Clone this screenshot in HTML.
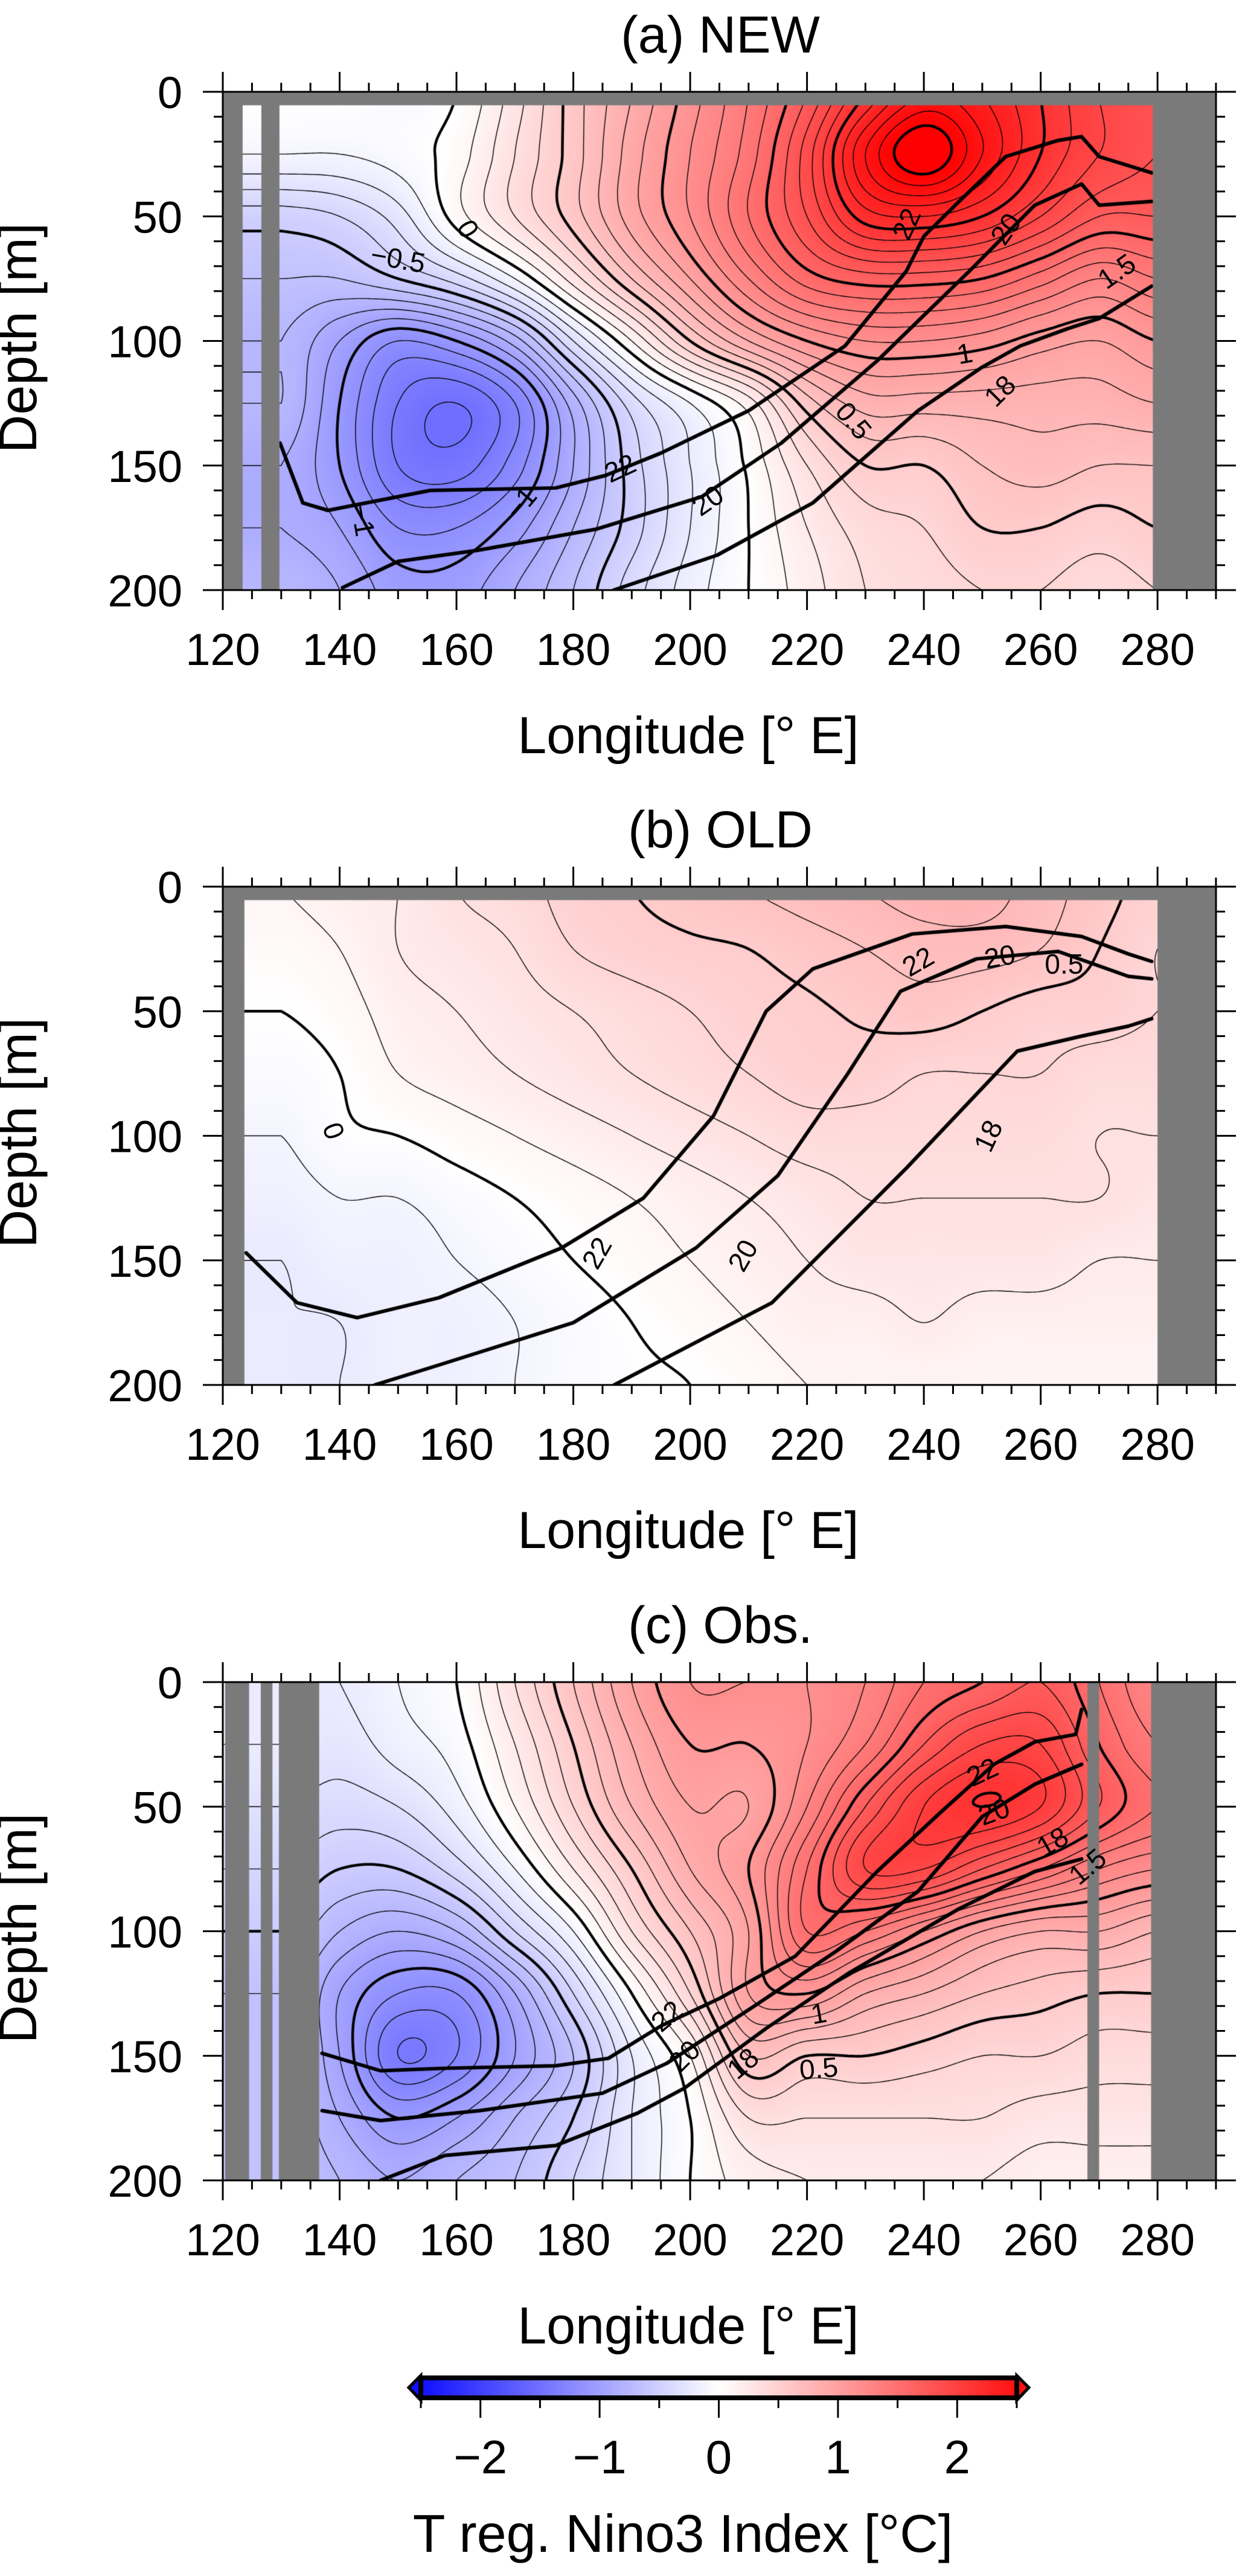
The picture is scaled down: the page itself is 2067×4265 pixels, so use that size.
<!DOCTYPE html>
<html><head><meta charset="utf-8">
<style>
body{margin:0;width:2067px;height:4265px;background:#fff;position:relative;overflow:hidden;font-family:"Liberation Sans",sans-serif}
canvas{position:absolute}
svg{position:absolute;left:0;top:0}
</style></head>
<body>
<svg id="s" width="2067" height="4265"></svg>
<script>
// ---------- data ----------
const lonGrid=[130,140,150,160,170,180,190,200,210,220,230,240,250,260,270,280];
const depthGrid=[0,25,50,75,100,125,150,175,200];
const newValues=[
[0.0,0.0,-0.05,0.0,0.25,0.55,0.8,1.05,1.3,1.6,2.0,2.3,2.2,2.0,1.8,1.7],
[-0.1,-0.1,-0.05,0.05,0.3,0.55,0.85,1.1,1.35,1.75,2.3,2.6,2.3,2.0,1.8,1.7],
[-0.45,-0.4,-0.25,0.05,0.3,0.55,0.85,1.1,1.4,1.7,2.05,2.1,2.0,1.8,1.6,1.6],
[-0.6,-0.6,-0.5,-0.35,-0.1,0.25,0.6,0.9,1.2,1.45,1.55,1.55,1.5,1.35,1.2,1.3],
[-0.7,-0.9,-1.1,-1.0,-0.75,-0.3,0.1,0.5,0.8,1.0,1.1,1.1,1.05,0.95,0.9,1.0],
[-0.7,-1.0,-1.3,-1.4,-1.2,-0.75,-0.35,-0.1,0.15,0.55,0.75,0.75,0.75,0.75,0.75,0.8],
[-0.8,-1.0,-1.3,-1.35,-1.15,-0.8,-0.45,-0.2,0.02,0.3,0.5,0.5,0.6,0.65,0.6,0.6],
[-0.8,-0.9,-1.1,-1.1,-0.95,-0.7,-0.45,-0.2,0.0,0.2,0.35,0.4,0.5,0.5,0.45,0.5],
[-0.7,-0.8,-0.95,-0.95,-0.8,-0.6,-0.35,-0.15,0.0,0.15,0.3,0.35,0.4,0.4,0.35,0.4]];
const oldValues=[
[0.1,0.15,0.2,0.3,0.35,0.45,0.5,0.55,0.6,0.65,0.7,0.75,0.75,0.65,0.55,0.45],
[0.05,0.1,0.2,0.25,0.3,0.4,0.45,0.48,0.5,0.55,0.6,0.65,0.65,0.6,0.5,0.4],
[0.0,0.05,0.15,0.2,0.25,0.3,0.35,0.4,0.45,0.48,0.52,0.55,0.5,0.45,0.45,0.4],
[-0.05,0.0,0.1,0.15,0.2,0.25,0.3,0.35,0.4,0.45,0.45,0.4,0.4,0.4,0.35,0.35],
[-0.1,-0.02,0.0,0.05,0.1,0.15,0.2,0.25,0.3,0.35,0.35,0.35,0.35,0.35,0.3,0.3],
[-0.15,-0.1,-0.1,-0.05,0.0,0.05,0.1,0.15,0.2,0.25,0.3,0.3,0.3,0.3,0.3,0.25],
[-0.2,-0.15,-0.15,-0.1,-0.05,0.0,0.05,0.1,0.15,0.2,0.25,0.25,0.25,0.25,0.2,0.2],
[-0.2,-0.2,-0.15,-0.15,-0.1,-0.05,0.0,0.05,0.1,0.15,0.15,0.2,0.15,0.15,0.15,0.15],
[-0.2,-0.2,-0.15,-0.15,-0.1,-0.05,-0.02,0.0,0.05,0.1,0.1,0.1,0.1,0.1,0.1,0.1]];
const obsValues=[
[-0.2,-0.2,-0.1,0.0,0.3,0.6,0.9,1.1,1.1,1.1,1.2,1.4,1.5,1.6,1.4,1.2],
[-0.2,-0.25,-0.15,-0.05,0.2,0.5,0.8,1.0,1.0,1.1,1.3,1.6,1.8,1.8,1.5,1.3],
[-0.3,-0.35,-0.3,-0.15,0.1,0.4,0.7,0.9,0.9,1.2,1.6,1.9,2.0,1.9,1.6,1.4],
[-0.4,-0.5,-0.5,-0.35,-0.1,0.2,0.5,0.8,1.0,1.4,1.8,1.8,1.6,1.4,1.2,1.1],
[-0.5,-0.7,-0.8,-0.7,-0.4,-0.1,0.3,0.6,0.9,1.4,1.3,1.1,0.9,0.8,0.8,0.7],
[-0.6,-0.9,-1.1,-1.1,-0.8,-0.4,0.0,0.4,0.9,1.0,0.8,0.7,0.6,0.55,0.5,0.5],
[-0.6,-0.9,-1.3,-1.2,-0.9,-0.6,-0.2,0.1,0.6,0.5,0.5,0.45,0.4,0.4,0.35,0.35],
[-0.6,-0.8,-1.0,-0.9,-0.7,-0.5,-0.2,0.0,0.3,0.3,0.3,0.3,0.3,0.25,0.25,0.25],
[-0.6,-0.7,-0.8,-0.7,-0.6,-0.4,-0.2,0.0,0.15,0.2,0.2,0.2,0.2,0.15,0.15,0.15]];
// isotherm (22,20,18 degC) depths
const new22Lon=[129.8,133.7,138,155.5,177,185.5,195,210,226.5,237,240,245.6,254,263,267,270,279];
const new22Depth=[141,165,168,160,159,154,145,128,102,72,58,45,26,19.5,18,26,32.5];
const new20Lon=[140.5,150,163.7,184,202,215.6,232,248,259,267,270,279];
const new20Depth=[199,188.5,184,175.5,162.5,141,108,71.5,45.5,37,45.5,44];
const new18Lon=[186.9,204.6,221,239,250,256.5,264.7,270,279];
const new18Depth=[200,186,165,128,110.5,102,95,91,78];
const old22Lon=[124,132.7,143,157,178,192,204,213,221,238,254,267,275,279];
const old22Depth=[147,167,173,165,145,125,92,50,33,19,16,20,27,30];
const old20Lon=[146,157,180,201,215,227,236,249,263,275,279];
const old20Depth=[200,192,175,145,116,75,42,29,26,36,37];
const old18Lon=[187,214,237,256,267,275,279];
const old18Depth=[200,167,113,66,60,56,53];
const obs22Lon=[137,147,158,177,186,195,205,218,232,243,252,259,266,267];
const obs22Depth=[149,156,155,154,151,138,127,110,76,52,33,24,21,11];
const obs20Lon=[137,147,164,185,196,211,225,239,250,259,267];
const obs20Depth=[172,176,172,165,153,130,108,84,54,41,33];
const obs18Lon=[147,158,177,191,199,213,227,246,259,267];
const obs18Depth=[200,190,186,173,163,139,117,91,76,71];
const xTicks=[120,140,160,180,200,220,240,260,280];
const yTicks=[0,50,100,150,200];
const cbTicks=[-2,-1,0,1,2];

// ---------- axes ----------
const X0=369, PX_PER_DEG=9.676, H=825, W=1645;
function xOf(lon){return X0+(lon-120)*PX_PER_DEG;}
function yOf(d,top){return top+d/200*H;}
function cbX(v){return 697+(v+2.5)/5*987;}

const svg=document.getElementById('s');
const NS='http://www.w3.org/2000/svg';
function mk(tag,attrs,parent){const e=document.createElementNS(NS,tag);for(const k in attrs)e.setAttribute(k,attrs[k]);(parent||svg).appendChild(e);return e;}

function cr(p0,p1,p2,p3,t){return 0.5*((2*p1)+(-p0+p2)*t+(2*p0-5*p1+4*p2-p3)*t*t+(-p0+3*p1-3*p2+p3)*t*t*t);}
function interp(vals,lon,d){
  let fl=(Math.min(280,Math.max(130,lon))-130)/10; let i=Math.min(14,Math.floor(fl)); let fx=fl-i;
  let fd=Math.min(200,Math.max(0,d))/25; let j=Math.min(7,Math.floor(fd)); let fy=fd-j;
  const rows=[];
  for(let r=j-1;r<=j+2;r++){const rr=vals[Math.max(0,Math.min(8,r))];
    const c=k=>rr[Math.max(0,Math.min(15,k))];
    rows.push(cr(c(i-1),c(i),c(i+1),c(i+2),fx));}
  return cr(rows[0],rows[1],rows[2],rows[3],fy);
}
function color(v){
  let t=Math.max(-1,Math.min(1,v/2.5));
  if(t>=0){const g=Math.round(255*(1-t));return [255,g,g];}
  const g=Math.round(255*(1+t));return [g,g,255];
}

const panels=[
 {key:'new',title:'(a) NEW',top:152,vals:newValues,
  iso:[[new22Lon,new22Depth],[new20Lon,new20Depth],[new18Lon,new18Depth]],
  masks:[[120,290,0,5.4],[120,123.4,0,200],[126.6,129.7,0,200],[279.2,290,0,200]],
  labels:[['0',162,55,60],['-0.5',150,67,10],['-1',171,165,-50],['-1',144,172,80],['1',247,105,-10],['1.5',273,72,-35],['0.5',228,132,50],['22',237,53,-65],['22',188,151,-25],['20',254,55,-55],['20',203,164,-35],['18',253,120,-45]]},
 {key:'old',title:'(b) OLD',top:1468,vals:oldValues,
  iso:[[old22Lon,old22Depth],[old20Lon,old20Depth],[old18Lon,old18Depth]],
  masks:[[120,290,0,5.4],[120,123.7,0,200],[280,290,0,200]],
  labels:[['22',239,30,-30],['22',184,147,-60],['20',253,28,-10],['20',209,148,-60],['0.5',264,31,0],['18',251,100,-65],['0',139,98,70]]},
 {key:'obs',title:'(c) Obs.',top:2785,vals:obsValues,
  iso:[[obs22Lon,obs22Depth],[obs20Lon,obs20Depth],[obs18Lon,obs18Depth]],
  masks:[[120.4,124.5,0,200],[126.5,128.5,0,200],[129.6,136.5,0,200],[268,270,0,200],[278.9,290,0,200]],
  labels:[['22',250,36,-25],['20',252,52,-20],['18',262,64,-30],['1.5',268,74,-40],['22',196,134,-40],['20',199,150,-45],['18',209,153,-40],['1',222,133,-10],['0.5',222,155,-5]]}
];

panels.forEach(p=>{
  const cv=document.createElement('canvas');
  
  
  cv.width=W;cv.height=H;cv.style.left=X0+'px';cv.style.top=p.top+'px';
  document.body.insertBefore(cv,svg);
  const ctx=cv.getContext('2d');
  // fine field
  const dl=0.5, dd=1; const nx=Math.round(160/dl)+1, ny=201;
  const F=[];for(let j=0;j<ny;j++){const r=[];for(let i=0;i<nx;i++)r.push(interp(p.vals,120+i*dl,j*dd));F.push(r);}
  const img=ctx.createImageData(W,H);
  for(let py=0;py<H;py++){const d=py/H*200;const j=Math.min(ny-2,Math.floor(d/dd));const fy=d/dd-j;
    for(let px=0;px<W;px++){const lon=px/PX_PER_DEG;const i=Math.min(nx-2,Math.floor(lon/dl));const fx=lon/dl-i;
      const v=F[j][i]*(1-fx)*(1-fy)+F[j][i+1]*fx*(1-fy)+F[j+1][i]*(1-fx)*fy+F[j+1][i+1]*fx*fy;
      const c=color(v);
      const k=(py*W+px)*4;img.data[k]=c[0];img.data[k+1]=c[1];img.data[k+2]=c[2];img.data[k+3]=255;}}
  ctx.putImageData(img,0,0);
  const px=l=>(l-120)*PX_PER_DEG, py=d=>d/200*H;
  ctx.strokeStyle='#000';ctx.lineCap='round';
  for(let k=-25;k<=25;k++){
    const L=k/10+1e-6; const thick=(k%5===0);
    ctx.lineWidth=thick?4.5:1.4; ctx.beginPath();
    for(let j=0;j<ny-1;j++)for(let i=0;i<nx-1;i++){
      const a=F[j][i],b=F[j][i+1],c=F[j+1][i+1],e=F[j+1][i];
      const pts=[];
      const l0=120+i*dl,l1=l0+dl,d0=j*dd,d1=d0+dd;
      if((a<L)!==(b<L)){const t=(L-a)/(b-a);pts.push([l0+t*dl,d0]);}
      if((b<L)!==(c<L)){const t=(L-b)/(c-b);pts.push([l1,d0+t*dd]);}
      if((e<L)!==(c<L)){const t=(L-e)/(c-e);pts.push([l0+t*dl,d1]);}
      if((a<L)!==(e<L)){const t=(L-a)/(e-a);pts.push([l0,d0+t*dd]);}
      for(let q=0;q+1<pts.length;q+=2){ctx.moveTo(px(pts[q][0]),py(pts[q][1]));ctx.lineTo(px(pts[q+1][0]),py(pts[q+1][1]));}
    }
    ctx.stroke();
  }
  // isotherms
  ctx.lineWidth=6;ctx.lineJoin='round';
  p.iso.forEach(([lons,deps])=>{ctx.beginPath();lons.forEach((l,i)=>{const X=px(l),Y=py(deps[i]);i?ctx.lineTo(X,Y):ctx.moveTo(X,Y);});ctx.stroke();});
  // land / missing masks
  ctx.fillStyle='#7a7a7a';
  p.masks.forEach(m=>ctx.fillRect(px(m[0]),py(m[2]),px(m[1])-px(m[0]),py(m[3])-py(m[2])));

  // SVG overlay
  const g=mk('g',{});
  
  
  p.labels.forEach(lb=>{
    const x=xOf(lb[1]),y=yOf(lb[2],p.top);
    const t=mk('text',{x:x,y:y+16,'font-size':46,'text-anchor':'middle',transform:`rotate(${lb[3]} ${x} ${y})`,fill:'#000'},g);
    t.textContent=lb[0].replace('-','\u2212');
    
    
  });
  const fr=mk('rect',{x:X0,y:p.top,width:W,height:H,fill:'none',stroke:'#000','stroke-width':3},g);
  
  
  const bot=p.top+H;
  for(let lon=120;lon<=290;lon+=5){
    const major=(lon%20===0)&&lon<=280; const len=major?33:15; const x=xOf(lon);
    mk('line',{x1:x,y1:bot,x2:x,y2:bot+len,stroke:'#000','stroke-width':3},g);
    mk('line',{x1:x,y1:p.top,x2:x,y2:p.top-len,stroke:'#000','stroke-width':3},g);
  }
  xTicks.forEach(v=>{const t=mk('text',{x:xOf(v),y:bot+124,'font-size':74,'text-anchor':'middle'},g);t.textContent=v;
    
    });
  for(let d=0;d<=200;d+=10){
    const major=d%50===0; const len=major?33:15; const y=yOf(d,p.top);
    mk('line',{x1:X0,y1:y,x2:X0-len,y2:y,stroke:'#000','stroke-width':3},g);
    mk('line',{x1:X0+W,y1:y,x2:X0+W+len,y2:y,stroke:'#000','stroke-width':3},g);
  }
  yTicks.forEach(v=>{const t=mk('text',{x:302,y:yOf(v,p.top)+27,'font-size':74,'text-anchor':'end'},g);t.textContent=v;
    
    });
  const xt=mk('text',{x:1140,y:bot+270,'font-size':86,'text-anchor':'middle'},g);xt.textContent='Longitude [\u00b0 E]';
  
  
  const ym=p.top+H/2+20;
  const yt=mk('text',{x:85,y:ym,'font-size':88,'text-anchor':'middle',transform:`rotate(-90 60 ${ym})`},g);yt.textContent='Depth [m]';
  
  
  const tt=mk('text',{x:1193,y:p.top-65,'font-size':86,'text-anchor':'middle'},g);tt.textContent=p.title;
  
  
});

// ---------- colorbar ----------
const defs=mk('defs',{});
const lg=mk('linearGradient',{id:'cbg',x1:0,x2:1,y1:0,y2:0},defs);
mk('stop',{offset:'0','stop-color':'#1010ff'},lg);mk('stop',{offset:'0.5','stop-color':'#ffffff'},lg);mk('stop',{offset:'1','stop-color':'#ff1010'},lg);
const cb=mk('g',{});


mk('polygon',{points:`${cbX(-2.5)},3933 ${cbX(-2.5)-20},3953 ${cbX(-2.5)},3974`,fill:'#1010ff',stroke:'#000','stroke-width':5},cb);
mk('polygon',{points:`${cbX(2.5)},3933 ${cbX(2.5)+20},3953 ${cbX(2.5)},3974`,fill:'#ff1010',stroke:'#000','stroke-width':5},cb);
mk('rect',{x:cbX(-2.5),y:3937,width:cbX(2.5)-cbX(-2.5),height:33,fill:'url(#cbg)',stroke:'#000','stroke-width':8},cb);
for(let v=-2.5;v<=2.51;v+=0.5){const major=Math.abs(v-Math.round(v))<0.01;
  mk('line',{x1:cbX(v),y1:3974,x2:cbX(v),y2:major?4003:3987,stroke:'#000','stroke-width':3},cb);}
cbTicks.forEach(v=>{const t=mk('text',{x:cbX(v),y:4095,'font-size':78,'text-anchor':'middle'},cb);t.textContent=v<0?'\u2212'+(-v):v;
  
  });
const ct=mk('text',{x:1131,y:4225,'font-size':88,'text-anchor':'middle'},cb);ct.textContent='T reg. Nino3 Index [\u00b0C]';


</script>
</body></html>
